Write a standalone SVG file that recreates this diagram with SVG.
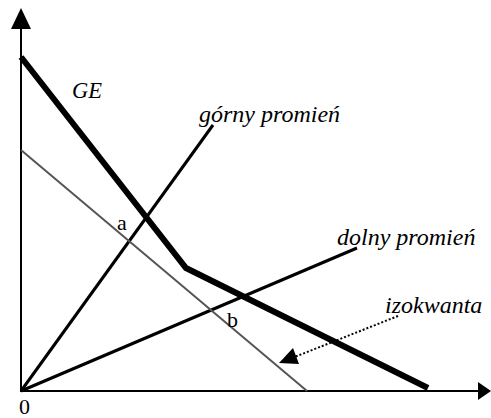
<svg xmlns="http://www.w3.org/2000/svg" width="491" height="418" viewBox="0 0 491 418">
<style>
text{font-family:'Liberation Serif','Times New Roman',Times,'DejaVu Serif',serif;font-size:22px;fill:#000}
.lbl{font-style:italic;font-size:24px}
.axis{stroke:#000;stroke-width:2;fill:none}
.ray{stroke:#000;stroke-width:3;fill:none}
</style>
<g id="connectors">
<line class="axis" x1="21" y1="392" x2="21" y2="26"/>
<polygon points="21,8 11,29 31,29" fill="#000"/>
<line class="axis" x1="20" y1="391" x2="480" y2="391"/>
<polygon points="491,391 478,382 478,400" fill="#000"/>
<line class="ray" x1="21" y1="391" x2="213" y2="125"/>
<line class="ray" x1="21" y1="391" x2="357" y2="248"/>
<line x1="21" y1="150" x2="307" y2="391" stroke="#555" stroke-width="2"/>
<polyline points="21,57 186,268 428,388" stroke="#000" stroke-width="6" fill="none" stroke-linejoin="miter"/>
<line x1="398" y1="316" x2="292" y2="358" stroke="#000" stroke-width="2" stroke-dasharray="2,2"/>
<polygon points="279,363 293,348 299,364" fill="#000"/>
</g>
<g id="label-GE"><text class="lbl" x="72" y="98" style="font-size:22.5px">GE</text></g>
<g id="label-gorny"><text class="lbl" x="199" y="122">górny promień</text></g>
<g id="label-dolny"><text class="lbl" x="337" y="245">dolny promień</text></g>
<g id="label-izokwanta"><text class="lbl" x="385" y="313">izokwanta</text></g>
<g id="label-a"><text x="117" y="230">a</text></g>
<g id="label-b"><text x="227" y="327">b</text></g>
<g id="label-0"><text x="19" y="414">0</text></g>
</svg>
